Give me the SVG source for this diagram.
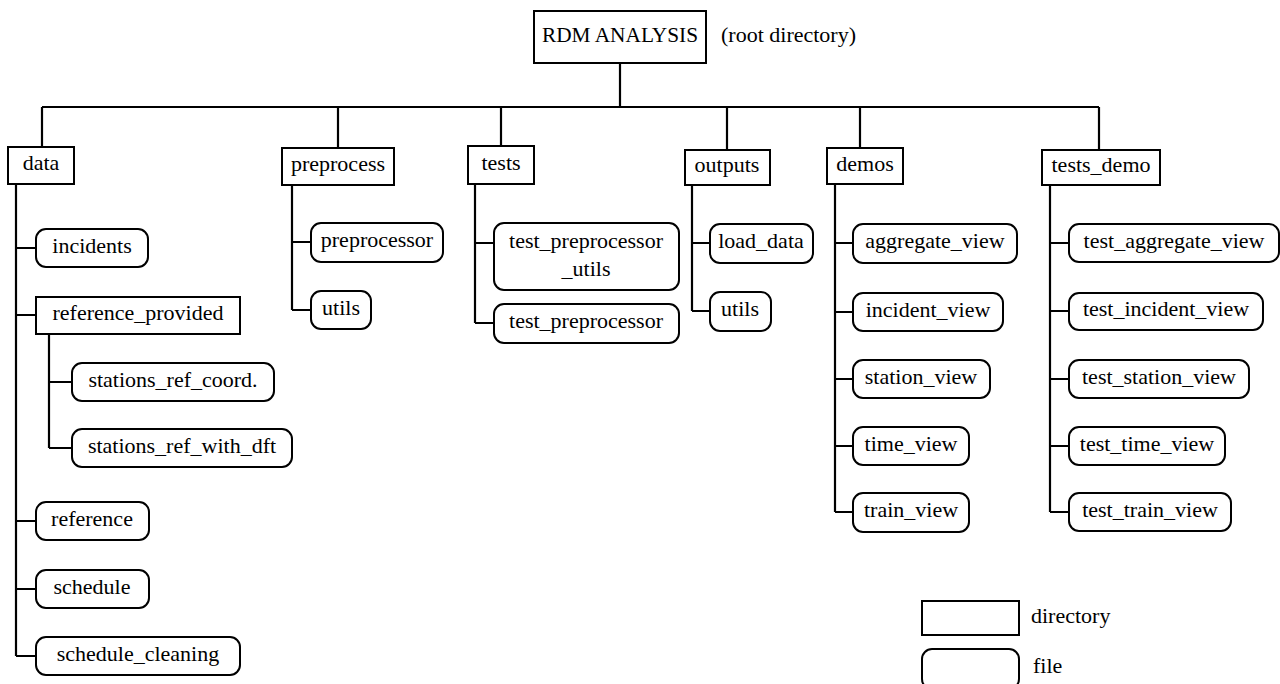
<svg xmlns="http://www.w3.org/2000/svg" width="1280" height="684" viewBox="0 0 1280 684">
<style>
text{font-family:"Liberation Serif","Times New Roman",serif;font-size:22px;fill:#000;text-anchor:middle}
.dir{fill:#fff;stroke:#000;stroke-width:2}
.file{fill:#fff;stroke:#000;stroke-width:2}
.lbl{text-anchor:start}
#connectors path{fill:none;stroke:#000;stroke-width:2.2}
</style>
<rect width="1280" height="684" fill="#fff"/>
<g id="connectors">
<path d="M620 63V107M42 107H1099M42 107V147M338 107V148M501 107V146M727 107V150M860 107V148M1099 107V150"/>
<path d="M16 184V656M16 248H36M16 315H36M16 521H36M16 589H36M16 656H36"/>
<path d="M49 334V448M49 382H72M49 448H72"/>
<path d="M292 185V310M292 242H311M292 310H311"/>
<path d="M475 184V323M475 243H494M475 323H494"/>
<path d="M692 185V311M692 243H710M692 311H710"/>
<path d="M835 184V512M835 243H853M835 312H853M835 379H853M835 446H853M835 512H853"/>
<path d="M1050 185V512M1050 243H1069M1050 311H1069M1050 379H1069M1050 446H1069M1050 512H1069"/>
</g>
<g id="root"><rect class="dir" x="534" y="11" width="172" height="52"/><text x="620" y="42" textLength="156" lengthAdjust="spacingAndGlyphs">RDM ANALYSIS</text></g>
<g id="root-note"><text class="lbl" x="721" y="42">(root directory)</text></g>
<g id="data"><rect class="dir" x="8" y="147" width="66" height="37"/><text x="41" y="170">data</text></g>
<g id="incidents"><rect class="file" x="36" y="229" width="112" height="38" rx="10"/><text x="92" y="253">incidents</text></g>
<g id="reference_provided"><rect class="dir" x="36" y="297" width="204" height="37"/><text x="138" y="320">reference_provided</text></g>
<g id="stations_ref_coord"><rect class="file" x="72" y="363" width="202" height="38" rx="10"/><text x="173" y="387">stations_ref_coord.</text></g>
<g id="stations_ref_with_dft"><rect class="file" x="72" y="429" width="220" height="38" rx="10"/><text x="182" y="453">stations_ref_with_dft</text></g>
<g id="reference"><rect class="file" x="36" y="502" width="113" height="38" rx="10"/><text x="92" y="526">reference</text></g>
<g id="schedule"><rect class="file" x="36" y="570" width="113" height="38" rx="10"/><text x="92" y="594">schedule</text></g>
<g id="schedule_cleaning"><rect class="file" x="36" y="637" width="204" height="38" rx="10"/><text x="138" y="661">schedule_cleaning</text></g>
<g id="preprocess"><rect class="dir" x="282" y="148" width="112" height="37"/><text x="338" y="171">preprocess</text></g>
<g id="preprocessor"><rect class="file" x="311" y="223" width="132" height="39" rx="10"/><text x="377" y="247">preprocessor</text></g>
<g id="pre_utils"><rect class="file" x="311" y="291" width="60" height="38" rx="10"/><text x="341" y="315">utils</text></g>
<g id="tests"><rect class="dir" x="468" y="146" width="66" height="38"/><text x="501" y="170">tests</text></g>
<g id="test_preprocessor_utils"><rect class="file" x="494" y="223" width="185" height="67" rx="10"/><text x="586" y="248">test_preprocessor</text><text x="586" y="276">_utils</text></g>
<g id="test_preprocessor"><rect class="file" x="494" y="304" width="185" height="39" rx="10"/><text x="586" y="328">test_preprocessor</text></g>
<g id="outputs"><rect class="dir" x="685" y="150" width="85" height="35"/><text x="727" y="172">outputs</text></g>
<g id="load_data"><rect class="file" x="710" y="224" width="103" height="39" rx="10"/><text x="761" y="248">load_data</text></g>
<g id="out_utils"><rect class="file" x="710" y="292" width="61" height="39" rx="10"/><text x="740" y="316">utils</text></g>
<g id="demos"><rect class="dir" x="827" y="148" width="76" height="36"/><text x="865" y="171">demos</text></g>
<g id="aggregate_view"><rect class="file" x="853" y="224" width="164" height="39" rx="10"/><text x="935" y="248">aggregate_view</text></g>
<g id="incident_view"><rect class="file" x="853" y="293" width="150" height="38" rx="10"/><text x="928" y="317">incident_view</text></g>
<g id="station_view"><rect class="file" x="853" y="360" width="137" height="38" rx="10"/><text x="921" y="384">station_view</text></g>
<g id="time_view"><rect class="file" x="853" y="427" width="116" height="38" rx="10"/><text x="911" y="451">time_view</text></g>
<g id="train_view"><rect class="file" x="853" y="493" width="116" height="39" rx="10"/><text x="911" y="517">train_view</text></g>
<g id="tests_demo"><rect class="dir" x="1042" y="150" width="118" height="35"/><text x="1101" y="172">tests_demo</text></g>
<g id="test_aggregate_view"><rect class="file" x="1069" y="224" width="210" height="38" rx="10"/><text x="1174" y="248">test_aggregate_view</text></g>
<g id="test_incident_view"><rect class="file" x="1069" y="293" width="194" height="37" rx="10"/><text x="1166" y="316">test_incident_view</text></g>
<g id="test_station_view"><rect class="file" x="1069" y="360" width="180" height="38" rx="10"/><text x="1159" y="384">test_station_view</text></g>
<g id="test_time_view"><rect class="file" x="1069" y="427" width="156" height="38" rx="10"/><text x="1147" y="451">test_time_view</text></g>
<g id="test_train_view"><rect class="file" x="1069" y="493" width="162" height="38" rx="10"/><text x="1150" y="517">test_train_view</text></g>
<g id="legend-directory"><rect class="dir" x="922" y="601" width="97" height="34"/><text class="lbl" x="1031" y="623">directory</text></g>
<g id="legend-file"><rect class="file" x="922" y="649" width="97" height="40" rx="10"/><text class="lbl" x="1033" y="673">file</text></g>
</svg>
